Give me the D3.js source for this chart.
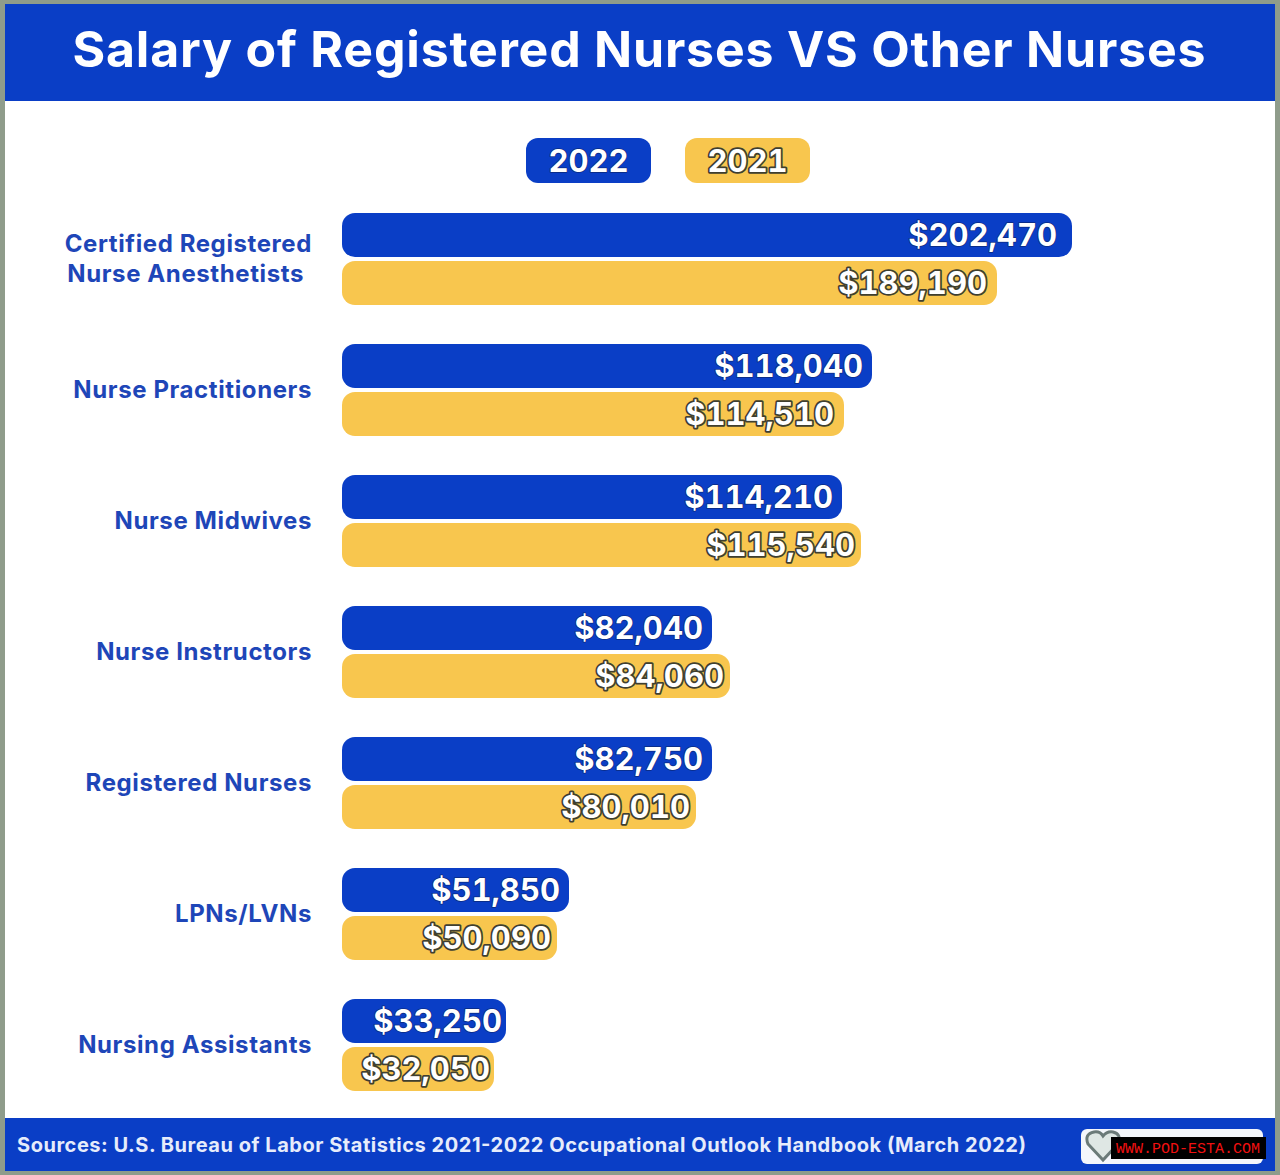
<!DOCTYPE html>
<html>
<head>
<meta charset="utf-8">
<script src="https://cdn.jsdelivr.net/npm/d3@7"></script>
<style>
  html, body { margin: 0; padding: 0; background: #8f9c8b; }
  svg { display: block; font-family: Inter, "Open Sans", sans-serif; }
</style>
</head>
<body>
<svg id="chart"></svg>
<script>
// Data
const categories = [
  "Certified Registered\nNurse Anesthetists",
  "Nurse Practitioners",
  "Nurse Midwives",
  "Nurse Instructors",
  "Registered Nurses",
  "LPNs/LVNs",
  "Nursing Assistants"
];
const seriesNames = ["2022", "2021"];
const values2022 = [202470, 118040, 114210, 82040, 82750, 51850, 33250];
const values2021 = [189190, 114510, 115540, 84060, 80010, 50090, 32050];
const titleText = "Salary of Registered Nurses VS Other Nurses";
const sourceText = "Sources: U.S. Bureau of Labor Statistics 2021-2022 Occupational Outlook Handbook (March 2022)";
const watermarkText = "WWW.POD-ESTA.COM";

const width = 1280;
const height = 1175;
const blue = "#0a3ec6";
const yellow = "#f8c64e";
const labelBlue = "#1e46b8";
const outline = "#3f3f30";

const svg = d3.select("#chart").attr("width", width).attr("height", height);

// Frame, title band, footer band
svg.append("rect").attr("x", 5).attr("y", 4).attr("width", 1270).attr("height", 1167).attr("fill", "#fff");
svg.append("rect").attr("x", 5).attr("y", 4).attr("width", 1270).attr("height", 97).attr("fill", blue);
svg.append("rect").attr("x", 5).attr("y", 1118).attr("width", 1270).attr("height", 53).attr("fill", blue);

svg.append("text")
  .attr("x", 639).attr("y", 67)
  .attr("text-anchor", "middle")
  .attr("fill", "#fff")
  .attr("font-size", 50).attr("font-weight", 700)
  .attr("textLength", 1133).attr("lengthAdjust", "spacing")
  .text(titleText);

svg.append("text")
  .attr("x", 17).attr("y", 1152)
  .attr("fill", "#e6ecfb")
  .attr("font-size", 20).attr("font-weight", 700)
  .attr("textLength", 1009).attr("lengthAdjust", "spacing")
  .text(sourceText);

// Scales. The bars in the source are not strictly to scale, so x is piecewise
const x = d3.scaleLinear()
  .domain([0, 32050, 33250, 50090, 51850, 80010, 82040, 82750, 84060, 114210, 114510, 115540, 118040, 189190, 202470])
  .range([342, 494, 506, 557, 569, 696, 712, 712, 730, 842, 844, 861, 872, 997, 1072]);

const y = d3.scaleBand()
  .domain(categories)
  .range([213, 1091])
  .paddingInner(39 / 131);

const ySeries = d3.scaleBand()
  .domain(seriesNames)
  .range([0, y.bandwidth()])
  .paddingInner(4 / 48);

const color = d3.scaleOrdinal().domain(seriesNames).range([blue, yellow]);
const dollars = d3.format("$,");

// Legend
const legendX = d3.scaleOrdinal().domain(seriesNames).range([526, 685]);
const legend = svg.append("g").selectAll("g").data(seriesNames).join("g")
  .attr("transform", d => `translate(${legendX(d)},138)`);
legend.append("rect")
  .attr("width", 125).attr("height", 45).attr("rx", 12)
  .attr("fill", d => color(d));

// White text: the yellow labels carry a dark outline in the source
function styleValue(sel, series) {
  sel.attr("fill", "#fff")
    .attr("font-weight", 700)
    .style("font-variant-numeric", "tabular-nums")
    .attr("paint-order", "stroke")
    .attr("stroke", series === "2021" ? outline : "#0a2a80")
    .attr("stroke-width", series === "2021" ? 3.5 : 1.5)
    .attr("stroke-linejoin", "round");
}
legend.append("text")
  .attr("x", 62.5).attr("y", 34)
  .attr("text-anchor", "middle")
  .attr("font-size", 31)
  .text(d => d)
  .each(function (d) { styleValue(d3.select(this), d); });

// Category labels
const labels = svg.append("g").selectAll("text").data(categories).join("text")
  .attr("text-anchor", "end")
  .attr("fill", labelBlue)
  .attr("font-size", 24).attr("font-weight", 700)
  .attr("letter-spacing", 0.6);
labels.each(function (d) {
  const lines = d.split("\n");
  const mid = y(d) + y.bandwidth() / 2;
  d3.select(this).selectAll("tspan").data(lines).join("tspan")
    .attr("x", (l, i) => (lines.length > 1 && i === 1 ? 304 : 312))
    .attr("y", (l, i) => mid + 8 + (i - (lines.length - 1) / 2) * 30)
    .text(l => l);
});

// Bars
seriesNames.forEach((name, s) => {
  const values = s === 0 ? values2022 : values2021;
  const g = svg.append("g");
  const rows = categories.map((c, i) => ({ c, v: values[i], i }));

  g.selectAll("rect").data(rows).join("rect")
    .attr("x", x(0))
    .attr("y", d => y(d.c) + ySeries(name))
    .attr("width", d => x(d.v) - x(0))
    .attr("height", ySeries.bandwidth())
    .attr("rx", 13)
    .attr("fill", color(name));

  // Labels sit a little in from the bar end, less on the shortest bars
  const inset = d => {
    if (d.i === categories.length - 1) return 4;
    if (s === 0) return d.i === 0 ? 15 : 9;
    return d.i < 2 ? 10 : 6;
  };
  g.selectAll("text").data(rows).join("text")
    .attr("x", d => x(d.v) - inset(d))
    .attr("y", d => y(d.c) + ySeries(name) + ySeries.bandwidth() / 2 + 11)
    .attr("text-anchor", "end")
    .attr("font-size", 31)
    .text(d => dollars(d.v))
    .each(function () { styleValue(d3.select(this), name); });
});

// Logo box in the footer, covered by the red-on-black watermark
svg.append("rect").attr("x", 1081).attr("y", 1129).attr("width", 182).attr("height", 35).attr("rx", 6).attr("fill", "#f4f6fb");
svg.append("path")
  .attr("d", "M1103 1160 L1088 1144 Q1084 1134 1094 1132 Q1100 1131 1103 1136 Q1107 1131 1113 1132 Q1122 1134 1118 1144 Z")
  .attr("fill", "#dfe7e4").attr("stroke", "#6b7a78").attr("stroke-width", 3);
svg.append("rect").attr("x", 1111).attr("y", 1137).attr("width", 155).attr("height", 22).attr("fill", "#000");
svg.append("text")
  .attr("x", 1188).attr("y", 1153)
  .attr("text-anchor", "middle")
  .attr("fill", "#f01010")
  .attr("font-family", "'Liberation Mono', 'DejaVu Sans Mono', monospace")
  .attr("font-size", 15)
  .text(watermarkText);
</script>
</body>
</html>
